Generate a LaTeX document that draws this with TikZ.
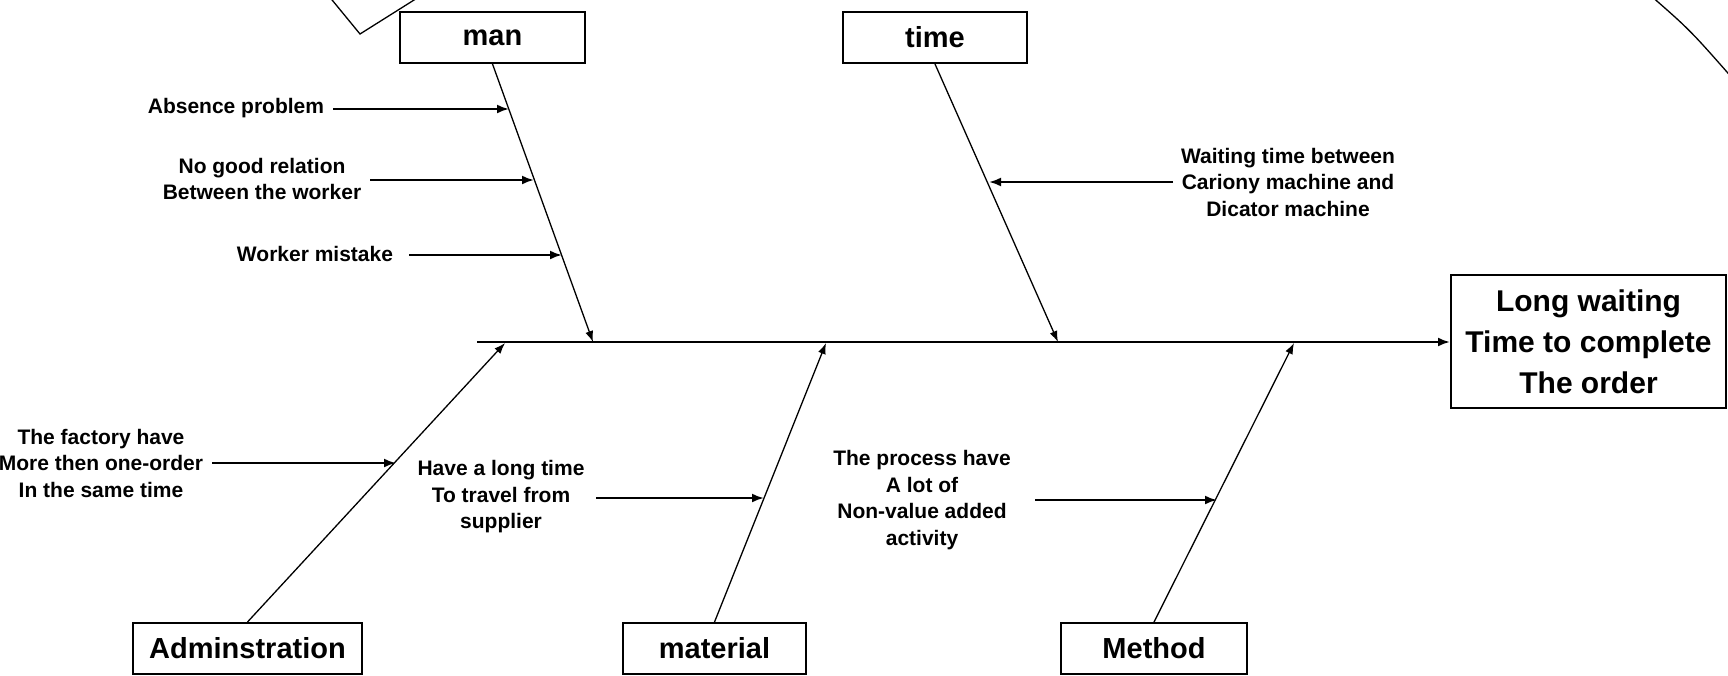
\documentclass[tikz,border=0pt]{standalone}
\usepackage{fontspec}
\setmainfont{Liberation Sans}
\usetikzlibrary{arrows.meta}
\begin{document}
\begin{tikzpicture}[x=1pt,y=-1pt,
  box/.style={draw, line width=2pt, minimum width=185pt, minimum height=51pt, inner sep=0pt, font=\fontsize{29}{34}\selectfont\bfseries},
  effect/.style={draw, line width=2pt, minimum width=275pt, minimum height=133pt, inner sep=0pt, align=center, font=\fontsize{30}{41}\selectfont\bfseries},
  cause/.style={align=center, inner sep=0pt, font=\fontsize{21}{26.5}\selectfont\bfseries},
  bone/.style={line width=1.3pt, -{Latex[length=11pt,width=8pt]}},
  spine/.style={line width=2.2pt, -{Latex[length=12pt,width=9pt]}},
  sub/.style={line width=2.2pt, -{Latex[length=12pt,width=9pt]}},
  frag/.style={line width=1.3pt}
]
\useasboundingbox (0,0) rectangle (1728,675);
\fill[white] (0,0) rectangle (1728,675);

% fragments at the top edge
\draw[frag] (328,-5) -- (360,34) -- (422,-5);
\draw[frag] (1650,-5) .. controls (1690,30) .. (1734,80);

% category boxes
\node[box] (man) at (492.5,37.5) {man};
\node[box, minimum width=184pt] (time) at (935,37.5) {time};
\node[box, minimum width=229pt] (adm) at (247.5,648.5) {Adminstration};
\node[box, minimum width=183pt] (mat) at (714.5,648.5) {material};
\node[box, minimum width=186pt] (meth) at (1154,648.5) {Method};

% effect box
\node[effect] (eff) at (1588.5,341.5) {Long waiting\\Time to complete\\The order};

% spine
\coordinate (sp0) at (477,342);
\draw[spine] (sp0) -- (eff.west |- sp0);

% bones
\coordinate (bman) at (593,342);
\coordinate (btime) at (1058,342);
\coordinate (badm) at (505,343);
\coordinate (bmat) at (826,343);
\coordinate (bmeth) at (1294,343);
\draw[bone] (man.south) -- (bman);
\draw[bone] (time.south) -- (btime);
\draw[bone] (adm.north) -- (badm);
\draw[bone] (mat.north) -- (bmat);
\draw[bone] (meth.north) -- (bmeth);

% causes
\node[cause] (c1) at (236,108) {Absence problem};
\node[cause] (c2) at (262,179) {No good relation\\Between the worker};
\node[cause] (c3) at (315,254) {Worker mistake};
\node[cause] (c4) at (1288,182) {Waiting time between\\Cariony machine and\\Dicator machine};
\node[cause] (c5) at (101,463) {The factory have\\More then one-order\\In the same time};
\node[cause] (c6) at (501,497) {Have a long time\\To travel from\\supplier};
\node[cause] (c7) at (922,500) {The process have\\A lot of\\Non-value added\\activity};

\coordinate (s1) at (333,109);  \coordinate (e1) at (509,109);
\coordinate (s2) at (370,180);  \coordinate (e2) at (534,180);
\coordinate (s3) at (409,255);  \coordinate (e3) at (562,255);
\coordinate (s4) at (1173,182); \coordinate (e4) at (989,182);
\coordinate (s5) at (212,463);  \coordinate (e5) at (396,463);
\coordinate (s6) at (596,498);  \coordinate (e6) at (764,498);
\coordinate (s7) at (1035,500); \coordinate (e7) at (1217,500);
\draw[sub] (s1) -- (e1);
\draw[sub] (s2) -- (e2);
\draw[sub] (s3) -- (e3);
\draw[sub] (s4) -- (e4);
\draw[sub] (s5) -- (e5);
\draw[sub] (s6) -- (e6);
\draw[sub] (s7) -- (e7);
\end{tikzpicture}
\end{document}
